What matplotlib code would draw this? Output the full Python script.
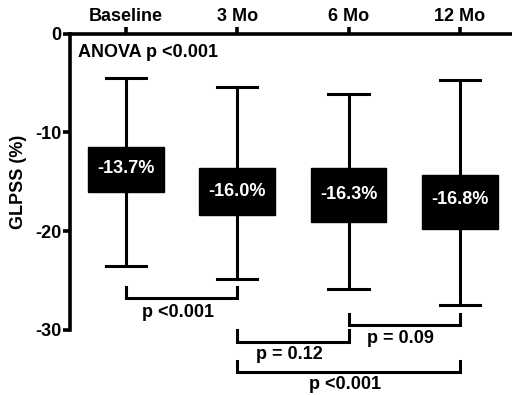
import matplotlib
matplotlib.use('Agg')
import matplotlib.pyplot as plt

plt.rcParams['font.family'] = ['Liberation Sans', 'DejaVu Sans']
plt.rcParams['font.weight'] = 'bold'
plt.rcParams['axes.unicode_minus'] = False

labels = ['Baseline', '3 Mo', '6 Mo', '12 Mo']
medians = [-13.7, -16.0, -16.3, -16.8]
q_upper = [-11.45, -13.6, -13.6, -14.3]
q_lower = [-16.0, -18.4, -19.1, -19.8]
whisk_hi = [-4.55, -5.4, -6.1, -4.7]
whisk_lo = [-23.5, -24.8, -25.9, -27.5]

# significance brackets: (left group, right group, label)
comparisons = [(0, 1, 'p <0.001'), (1, 2, 'p = 0.12'), (2, 3, 'p = 0.09'), (1, 3, 'p <0.001')]
bracket_top = [-25.6, -30.05, -28.4, -33.1]
bracket_bot = [-26.8, -31.2, -29.5, -34.2]
label_y = [-28.2, -32.5, -30.9, -35.5]

fig = plt.figure(figsize=(5.12, 3.95), dpi=100)
ax = fig.add_axes([70 / 512, 65 / 395, 445.6 / 512, 296.5 / 395])

stats = []
for i in range(len(labels)):
    stats.append({'med': medians[i], 'q1': q_lower[i], 'q3': q_upper[i],
                  'whislo': whisk_lo[i], 'whishi': whisk_hi[i], 'fliers': []})

ax.bxp(stats, positions=range(len(labels)), widths=0.68, capwidths=0.36,
       patch_artist=True, showfliers=False,
       boxprops=dict(facecolor='black', edgecolor='black', linewidth=1),
       medianprops=dict(color='black', linewidth=1),
       whiskerprops=dict(color='black', linewidth=2.2),
       capprops=dict(color='black', linewidth=2.2))

for i, m in enumerate(medians):
    ax.text(i, m, '%.1f%%' % m, color='white', ha='center', va='center',
            fontsize=13, fontweight='bold')

for (a, b, txt), yt, yb, ly in zip(comparisons, bracket_top, bracket_bot, label_y):
    ax.plot([a, a, b, b], [yt, yb, yb, yt], color='black', lw=2.2, clip_on=False,
            solid_joinstyle='miter')
    ax.text((a + b) / 2 - 0.03, ly, txt, ha='center', va='center', fontsize=13,
            fontweight='bold', clip_on=False)

ax.text(-0.43, -1.95, 'ANOVA p <0.001', ha='left', va='center', fontsize=13,
        fontweight='bold')

ax.set_xlim(-0.5, 3.5)
ax.set_ylim(-30, 0)
ax.set_yticks([0, -10, -20, -30])
ax.set_xticks(range(len(labels)))
ax.set_xticklabels(labels)
ax.xaxis.tick_top()
ax.set_ylabel('GLPSS (%)', fontsize=13, fontweight='bold', labelpad=6)

for s in ['right', 'bottom']:
    ax.spines[s].set_visible(False)
for s in ['left', 'top']:
    ax.spines[s].set_linewidth(2.6)
ax.tick_params(axis='both', width=2.6, length=5, labelsize=13, pad=1)
for lab in ax.get_xticklabels() + ax.get_yticklabels():
    lab.set_fontweight('bold')

fig.savefig('out.png', dpi=100)
